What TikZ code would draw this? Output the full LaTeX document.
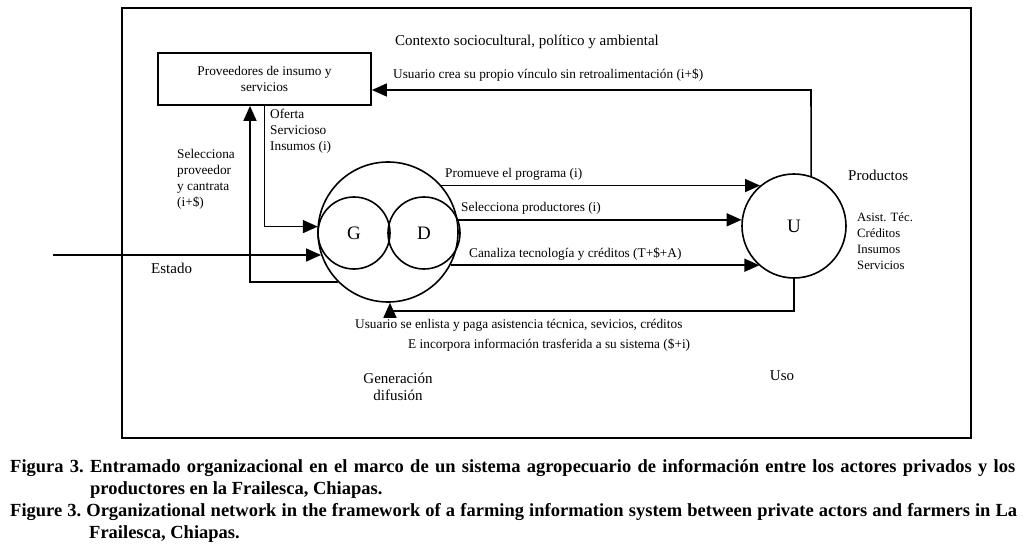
\documentclass[tikz,border=0pt]{standalone}
\usepackage{fontspec}
\setmainfont{Liberation Serif}
\usetikzlibrary{shapes,arrows.meta}
\tikzstyle{box} = [rectangle, minimum width=213pt, minimum height=52pt, text centered, align=center, draw=black, line width=1.8pt, font=\fontsize{13.3}{16}\selectfont]
\tikzstyle{c} = [circle, draw=black, line width=1.6pt, inner sep=0pt, font=\fontsize{19}{19}\selectfont]
\tikzstyle{lbl} = [inner sep=0pt, font=\fontsize{13.3}{16}\selectfont, align=left]
\tikzstyle{big} = [lbl, font=\fontsize{15}{17}\selectfont]
\tikzstyle{arr} = [line width=1.6pt, -{Triangle[length=15pt,width=13pt]}]
\tikzstyle{captxt} = [inner sep=0pt, anchor=base west, font=\frenchspacing\bfseries\fontsize{18.5}{20}\selectfont]

\begin{document}
\begin{tikzpicture}[x=1pt,y=-1pt]
			\useasboundingbox (0,0) rectangle (1024,553);
			\draw[line width=1.8pt] (122,8) rectangle (971,438);
			% actores
			\node[box](prov) at (264.5,79){Proveedores de insumo y\\servicios};
			\node[c,minimum size=140pt](gd) at (388,232){};
			\node[c,minimum size=72pt](g) at (354,233){G};
			\node[c,minimum size=72pt](d) at (424,233){D};
			\node[c,minimum size=104pt](u) at (794,226){U};
			\coordinate (fb) at (811,90);
			\coordinate (ret) at (390,311);
			\coordinate (est) at (53,255);
			\coordinate (sp) at (250,284);
			% flujos
			\draw[arr] (gd.41) -- (gd.41 -| u.130);
			\draw[arr] (d.21) -- (d.21 -| u.173);
			\draw[arr] (gd.332) -- (gd.332 -| u.229);
			\draw[arr] (u.south) |- (ret) -- (ret |- gd.south);
			\draw[arr] (u.71) -- (fb) -- (fb -| prov.east);
			\draw[arr] (prov.south) |- (g.170);
			\draw[arr] (est) -- (est -| gd.199);
			\draw[arr] (gd.225) -- (gd.225 -| sp) -- (sp |- prov.south);
			% textos
			\node[big](ctx) at (527,42){Contexto sociocultural, político y ambiental};
			\node[lbl,anchor=west](fbl) at (393,75){Usuario crea su propio vínculo sin retroalimentación (i+\$)};
			\node[lbl,anchor=north west](ofl) at (270,109){Oferta\\Servicioso\\Insumos (i)};
			\node[lbl,anchor=north west](spl) at (177,149){Selecciona\\proveedor\\y cantrata\\(i+\$)};
			\node[big,anchor=west](estl) at (151,268){Estado};
			\node[lbl,anchor=west](l1) at (445,174){Promueve el programa (i)};
			\node[lbl,anchor=west](l2) at (461,208){Selecciona productores (i)};
			\node[lbl,anchor=west](l3) at (469,254){Canaliza tecnología y créditos (T+\$+A)};
			\node[lbl,anchor=west](r1) at (355,325){Usuario se enlista y paga asistencia técnica, sevicios, créditos};
			\node[lbl,anchor=west](r2) at (408,345){E incorpora información trasferida a su sistema (\$+i)};
			\node[big,anchor=west](prod) at (848,175){Productos};
			\node[lbl,anchor=north west,font=\fontsize{12.7}{16.3}\selectfont](items) at (857,212){Asist. Téc.\\Créditos\\Insumos\\Servicios};
			\node[big](uso) at (782,376){Uso};
			\node[big,align=center](gen) at (398,387){Generación\\difusión};
			% pie de figura
			\node[captxt](c1) at (10,472){\makebox[1005pt][s]{Figura 3. Entramado organizacional en el marco de un sistema agropecuario de información entre los actores privados y los}};
			\node[captxt](c2) at (90,494){productores en la Frailesca, Chiapas.};
			\node[captxt](c3) at (10,516){\makebox[1007pt][s]{Figure 3. Organizational network in the framework of a farming information system between private actors and farmers in La}};
			\node[captxt](c4) at (89,538){Frailesca, Chiapas.};
		\end{tikzpicture}
\end{document}
